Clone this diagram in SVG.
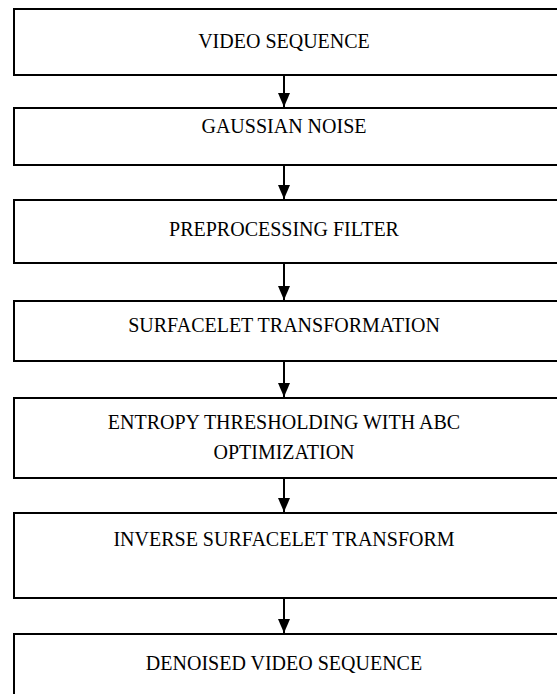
<svg xmlns="http://www.w3.org/2000/svg" width="557" height="694" viewBox="0 0 557 694">
<style>
.box{fill:#fff;stroke:#000;stroke-width:2}
.t{font-family:"Liberation Serif","Times New Roman",serif;font-size:20px;fill:#000;text-anchor:middle}
.c{stroke:#000;stroke-width:2;fill:none;marker-end:url(#ah)}
</style>
<defs>
<marker id="ah" viewBox="0 0 14 12" refX="14" refY="6" markerWidth="14" markerHeight="12" markerUnits="userSpaceOnUse" orient="auto">
<path d="M0,0 L14,6 L0,12 Z" fill="#000"/>
</marker>
</defs>
<rect width="557" height="694" fill="#fff"/>
<g id="n1"><rect class="box" x="14" y="9" width="560" height="66"/><text class="t" x="284" y="48">VIDEO SEQUENCE</text></g>
<g id="n2"><rect class="box" x="14" y="108" width="560" height="57"/><text class="t" x="284" y="133">GAUSSIAN NOISE</text></g>
<g id="n3"><rect class="box" x="14" y="200" width="560" height="63"/><text class="t" x="284" y="236">PREPROCESSING FILTER</text></g>
<g id="n4"><rect class="box" x="14" y="301" width="560" height="60"/><text class="t" x="284" y="332">SURFACELET TRANSFORMATION</text></g>
<g id="n5"><rect class="box" x="14" y="398" width="560" height="80"/><text class="t" x="284" y="429">ENTROPY THRESHOLDING WITH ABC</text><text class="t" x="284" y="459">OPTIMIZATION</text></g>
<g id="n6"><rect class="box" x="14" y="513" width="560" height="85"/><text class="t" x="284" y="546">INVERSE SURFACELET TRANSFORM</text></g>
<g id="n7"><rect class="box" x="14" y="634" width="560" height="80"/><text class="t" x="284" y="670">DENOISED VIDEO SEQUENCE</text></g>
<g id="connectors">
<line class="c" x1="284" y1="76" x2="284" y2="107"/>
<line class="c" x1="284" y1="166" x2="284" y2="199"/>
<line class="c" x1="284" y1="264" x2="284" y2="300"/>
<line class="c" x1="284" y1="362" x2="284" y2="397"/>
<line class="c" x1="284" y1="479" x2="284" y2="512"/>
<line class="c" x1="284" y1="599" x2="284" y2="633"/>
</g>
</svg>
